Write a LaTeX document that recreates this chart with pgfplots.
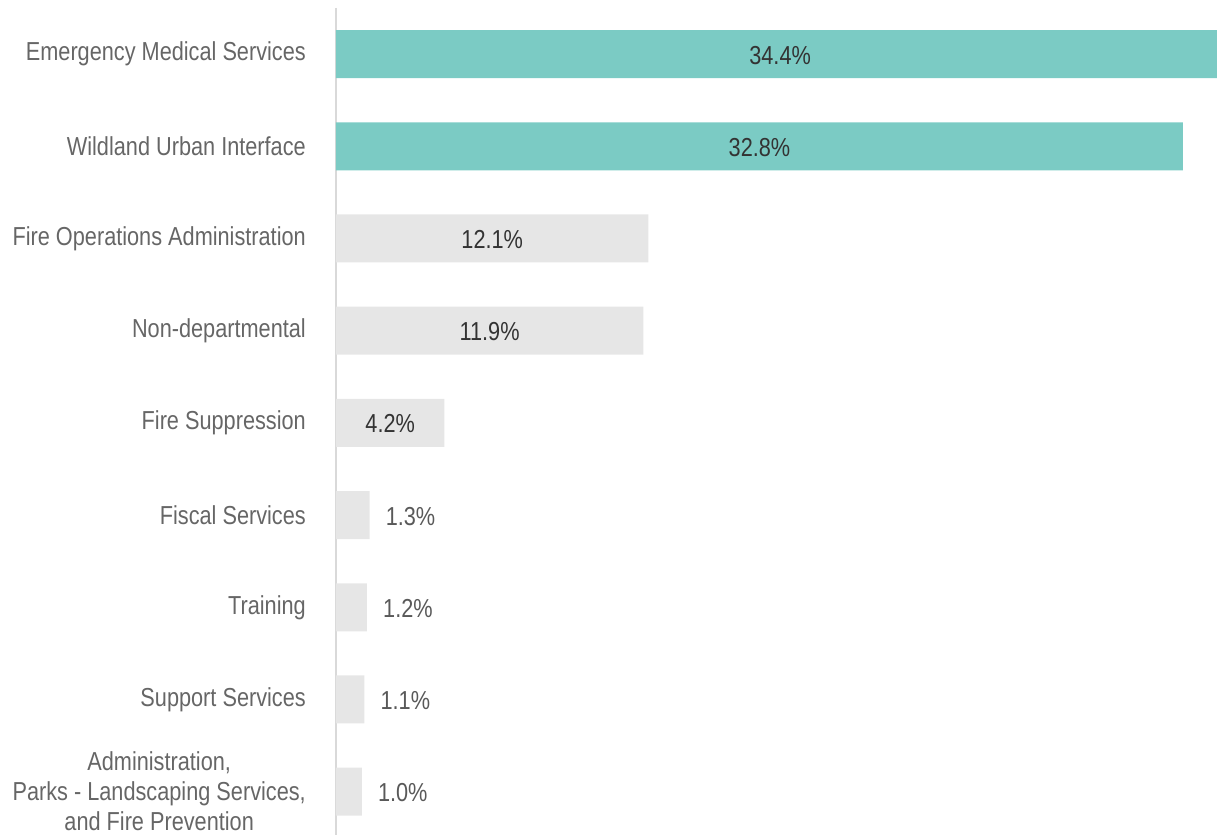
\documentclass[border=0pt]{standalone}
\usepackage{fontspec}
\setmainfont{Liberation Sans}[FakeStretch=0.835]
\usepackage{pgfplots}
\pgfplotsset{compat=1.18}
\definecolor{barteal}{HTML}{7BCBC4}
\definecolor{bargray}{HTML}{E6E6E6}
\definecolor{axgray}{HTML}{D9D9D9}
\definecolor{labgray}{HTML}{666666}
\definecolor{valdark}{HTML}{333333}
\definecolor{valgray}{HTML}{595959}
\begin{document}
\begin{tikzpicture}
\begin{axis}[
  at={(0,0)}, anchor=south west,
  scale only axis, width=881pt, height=827pt,
  xmin=0, xmax=34.12, ymin=-0.5, ymax=8.47, y dir=reverse,
  xbar, bar width=48pt, bar shift=0pt,
  axis x line=none, axis y line*=left,
  y axis line style={draw=axgray, line width=2pt, -},
  ytick={0,...,8},
  yticklabels={Emergency Medical Services, Wildland Urban Interface, Fire Operations Administration, Non-departmental, Fire Suppression, Fiscal Services, Training, Support Services, {Administration,\\Parks - Landscaping Services,\\and Fire Prevention}},
  major tick length=0pt,
  yticklabel style={font=\fontsize{26}{30}\selectfont, text=labgray, align=center, inner sep=0pt, xshift=-30pt},
  clip=true,
]
\addplot[fill=barteal, draw=none, bar shift=0pt] coordinates {(34.4,0) (32.8,1)};
\addplot[fill=bargray, draw=none, bar shift=0pt] coordinates {(12.1,2) (11.9,3) (4.2,4) (1.3,5) (1.2,6) (1.1,7) (1.0,8)};
\addplot[only marks, mark=none, bar shift=0pt, point meta=explicit symbolic, nodes near coords,
  nodes near coords style={anchor=center, font=\fontsize{26}{30}\selectfont, text=valdark, inner sep=0pt, yshift=-1pt}]
  coordinates {(17.2,0) [34.4\%] (16.4,1) [32.8\%] (6.05,2) [12.1\%] (5.95,3) [11.9\%] (2.1,4) [4.2\%]};
\addplot[only marks, mark=none, bar shift=0pt, point meta=explicit symbolic, nodes near coords,
  nodes near coords style={anchor=west, font=\fontsize{26}{30}\selectfont, text=valgray, inner sep=0pt, xshift=16pt, yshift=-1pt}]
  coordinates {(1.3,5) [1.3\%] (1.2,6) [1.2\%] (1.1,7) [1.1\%] (1.0,8) [1.0\%]};
\end{axis}
\pgfresetboundingbox
\path[use as bounding box] (-336pt,0pt) rectangle (881pt,835pt);
\end{tikzpicture}
\end{document}
